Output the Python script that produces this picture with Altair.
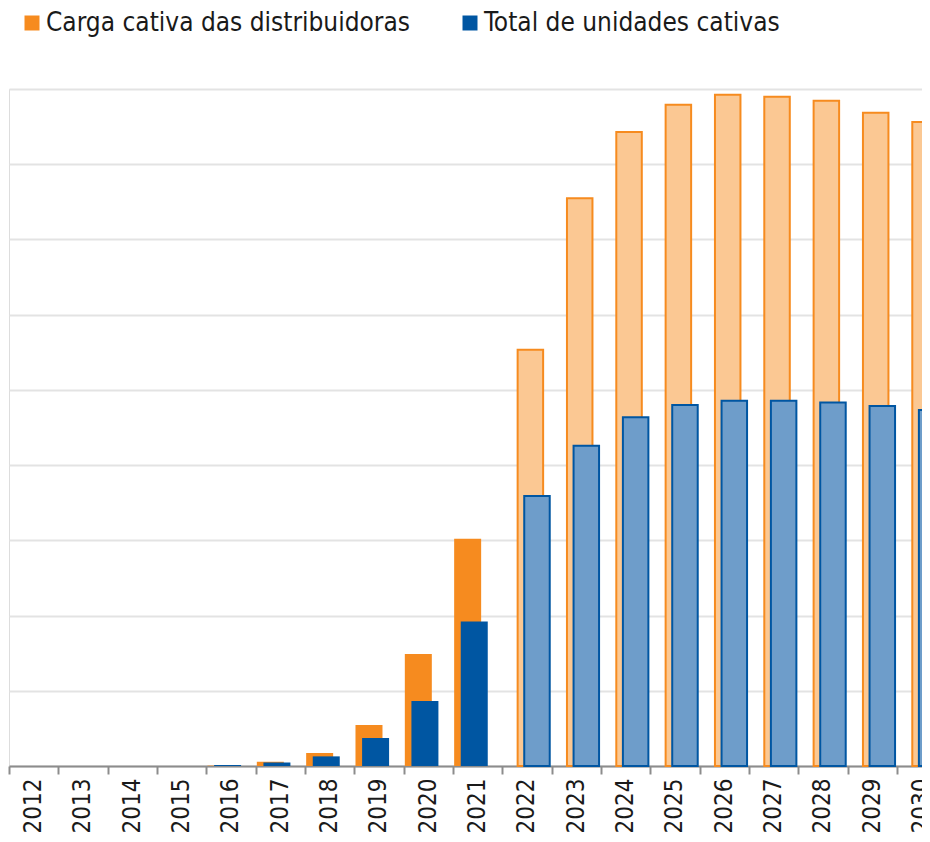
import altair as alt
import pandas as pd

S1 = "Carga cativa das distribuidoras"
S2 = "Total de unidades cativas"
ORANGE = "#F68B1F"
BLUE = "#0056A2"
ORANGE_HATCH = "#FBC893"
BLUE_HATCH = "#6E9DCA"
FONT_LEG = "DejaVu Sans Condensed"
FONT_AX = "DejaVu Sans Condensed"

years = [str(y) for y in range(2012, 2031)]
hist_years = [str(y) for y in range(2012, 2022)]
proj_years = [str(y) for y in range(2022, 2031)]

carga_hist = [0, 0, 0, 0, 5, 57, 173, 545, 1490, 3020]
total_hist = [0, 0, 0, 0, 13, 48, 128, 372, 864, 1920]
carga_proj = [5532, 7549, 8427, 8790, 8923, 8896, 8843, 8684, 8560]
total_proj = [3590, 4259, 4637, 4800, 4854, 4854, 4831, 4787, 4734]

rows = []
for a, c, t in zip(hist_years, carga_hist, total_hist):
    rows.append({"ano": a, "serie": S1, "tipo": "hist", "valor": c})
    rows.append({"ano": a, "serie": S2, "tipo": "hist", "valor": t})
for a, c, t in zip(proj_years, carga_proj, total_proj):
    rows.append({"ano": a, "serie": S1, "tipo": "proj", "valor": c})
    rows.append({"ano": a, "serie": S2, "tipo": "proj", "valor": t})
df = pd.DataFrame(rows)

x = alt.X(
    "ano:O",
    sort=years,
    scale=alt.Scale(domain=years, range=[0, 937.3], paddingInner=0, paddingOuter=0),
    axis=alt.Axis(
        title=None, labelAngle=270, labelAlign="right", labelBaseline="middle",
        labelFont=FONT_AX, labelFontSize=24, labelColor="#1a1a1a", labelPadding=4,
        tickBand="extent", tickSize=8, tickWidth=2, tickColor="#8c8c8c",
        domainColor="#8c8c8c", domainWidth=2, grid=False, labelOverlap=False,
    ),
)
y = alt.Y(
    "valor:Q",
    scale=alt.Scale(domain=[0, 9000], nice=False),
    axis=alt.Axis(
        title=None, labels=False, ticks=False, domain=False,
        values=list(range(0, 10000, 1000)), grid=True,
        gridColor="#e3e3e3", gridWidth=2,
    ),
)

color = alt.Color(
    "serie:N",
    scale=alt.Scale(domain=[S1, S2], range=[ORANGE, BLUE]),
    legend=alt.Legend(
        orient="none", direction="horizontal", legendX=10, legendY=-79,
        title=None, symbolType="square", symbolSize=225, symbolStrokeWidth=0,
        labelFont=FONT_LEG, labelFontSize=26, labelColor="#1a1a1a", labelOffset=1,
        columnPadding=47, padding=0, labelLimit=600,
    ),
)

base = alt.Chart(df)

solid_o = base.mark_bar(size=27, xOffset=-10).encode(x=x, y=y, color=color).transform_filter(
    (alt.datum.tipo == "hist") & (alt.datum.serie == S1))
solid_b = base.mark_bar(size=27, xOffset=-3.4).encode(x=x, y=y, color=color).transform_filter(
    (alt.datum.tipo == "hist") & (alt.datum.serie == S2))
hat_o = base.mark_bar(size=25.5, xOffset=3.4, fill=ORANGE_HATCH,
                      stroke=ORANGE, strokeWidth=2).encode(x=x, y=y).transform_filter(
    (alt.datum.tipo == "proj") & (alt.datum.serie == S1))
hat_b = base.mark_bar(size=25.5, xOffset=10, fill=BLUE_HATCH,
                      stroke=BLUE, strokeWidth=2).encode(x=x, y=y).transform_filter(
    (alt.datum.tipo == "proj") & (alt.datum.serie == S2))

chart = alt.layer(solid_o, hat_o, solid_b, hat_b).properties(
    width=913, height=677,
    autosize=alt.AutoSizeParams(type="none"),
    padding={"left": 1, "top": 81, "right": 0, "bottom": 68},
).configure_view(stroke=None).configure(background="white")

chart.save("out.html", embed_options={"renderer": "svg", "actions": False})
